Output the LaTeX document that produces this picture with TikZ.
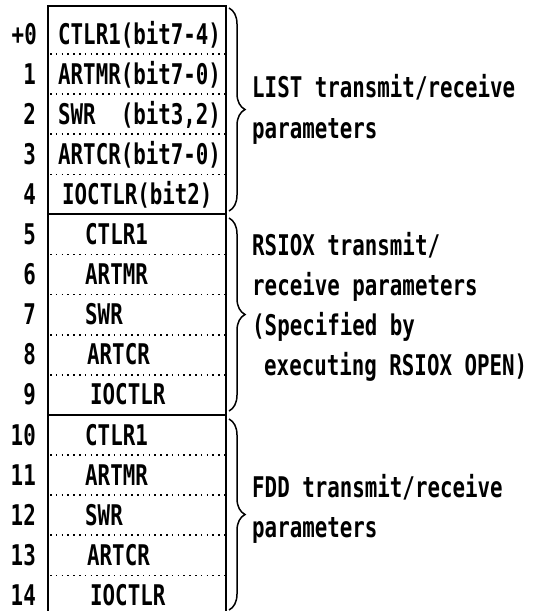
\documentclass[tikz,border=0pt]{standalone}
\usepackage{fontspec}
\usepackage{tikz}
\usetikzlibrary{decorations.pathreplacing}
\newfontfamily\regfont[FakeStretch=0.73]{DejaVu Sans Mono}

\begin{document}
\begin{tikzpicture}[x=1pt,y=-1pt,
  txt/.style={font=\regfont\bfseries\fontsize{28.5}{40}\selectfont,inner sep=0pt,anchor=base west},
  num/.style={txt,anchor=base east},
  dots/.style={line width=1.6pt,dash pattern=on 1.6pt off 4.2pt},
  brc/.style={decorate,decoration={brace,amplitude=16pt},line width=1.5pt}]
  \useasboundingbox (0,0) rectangle (534,611);
  % register table
  \draw[line width=1.7pt] (48,616) -- (48,6) -- (226,6) -- (226,616);
  \draw[line width=2pt] (48,214.4) -- (226,214.4);
  \draw[line width=2pt] (48,414.9) -- (226,414.9);
  \foreach \r in {0,1,2,3,5,6,7,8,10,11,12,13}
    \draw[dots] (50,{54+40.1*\r}) -- (225,{54+40.1*\r});
  % offsets
  \node[num] (n0) at (37,44) {+0};
  \foreach \r in {1,...,14}
    \node[num] (n\r) at (36,{44+40.1*\r}) {\r};
  % LIST block
  \node[txt] (ctl0) at (58,44) {CTLR1(bit7-4)};
  \node[txt] (art0) at (58,84.1) {ARTMR(bit7-0)};
  \node[txt] (swr0) at (58,124.2) {SWR\ \ (bit3,2)};
  \node[txt] (arc0) at (58,164.3) {ARTCR(bit7-0)};
  \node[txt] (ioc0) at (62,204.4) {IOCTLR(bit2)};
  % RSIOX and FDD blocks
  \foreach \s in {5,10} {
    \node[txt] (ctl\s) at (85,{44+40.1*\s}) {CTLR1};
    \node[txt] (art\s) at (85,{44+40.1*(\s+1)}) {ARTMR};
    \node[txt] (swr\s) at (85,{44+40.1*(\s+2)}) {SWR};
    \node[txt] (arc\s) at (87,{44+40.1*(\s+3)}) {ARTCR};
    \node[txt] (ioc\s) at (90,{44+40.1*(\s+4)}) {IOCTLR};
  }
  % braces and labels
  \draw[brc] (229,8) -- (229,211);
  \draw[brc] (229,218) -- (229,411);
  \draw[brc] (229,419) -- (229,610);
  \node[txt] (lst1) at (252,97) {LIST transmit/receive};
  \node[txt] (lst2) at (252,138) {parameters};
  \node[txt] (rsx1) at (252,255) {RSIOX transmit/};
  \node[txt] (rsx2) at (252,295) {receive parameters};
  \node[txt] (rsx3) at (252,335) {(Specified by};
  \node[txt] (rsx4) at (264,375) {executing RSIOX OPEN)};
  \node[txt] (fdd1) at (252,497) {FDD transmit/receive};
  \node[txt] (fdd2) at (252,537) {parameters};
\end{tikzpicture}
\end{document}
